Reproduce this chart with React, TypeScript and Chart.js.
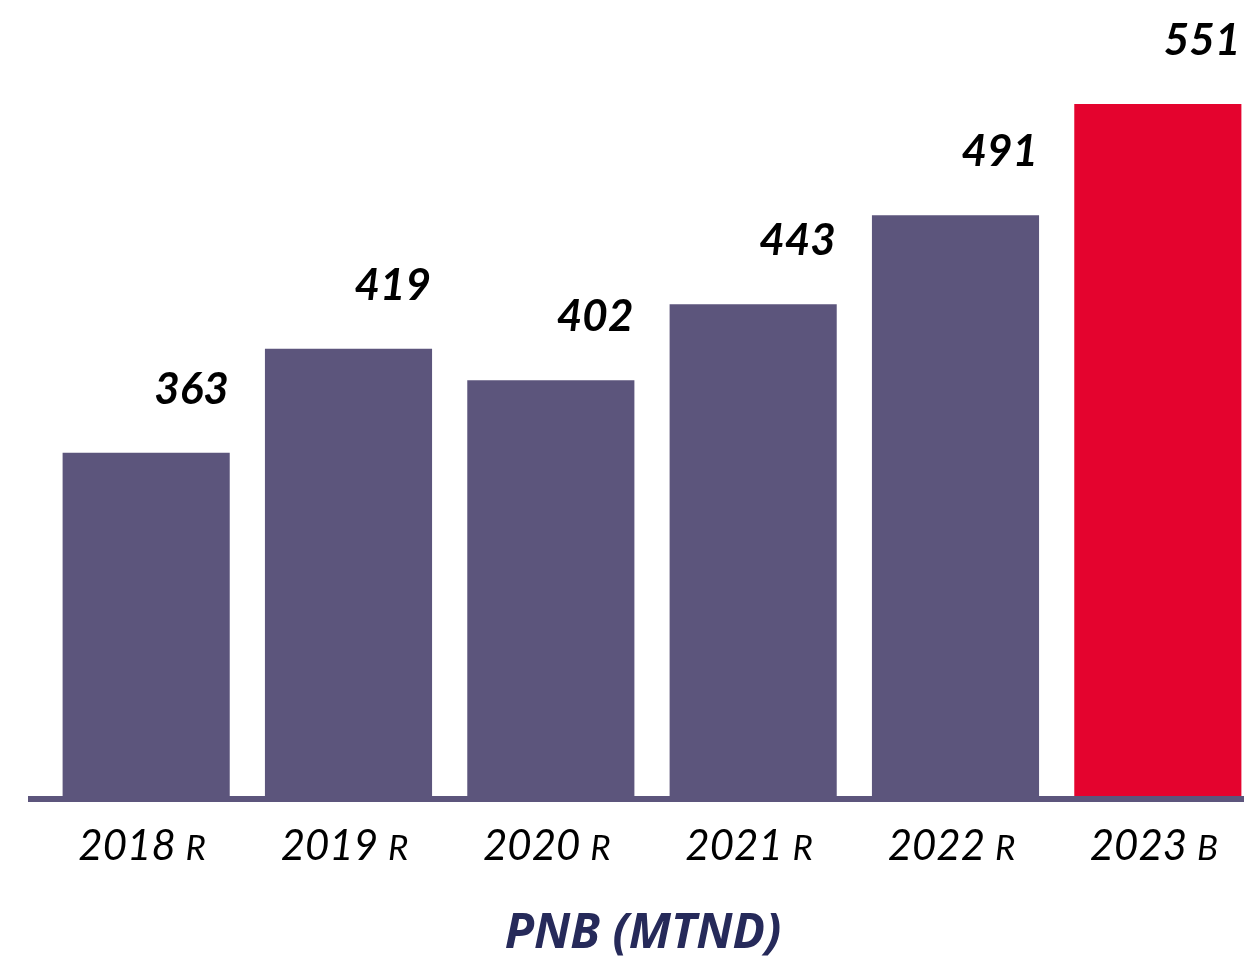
import React, { useEffect, useRef } from "react";
import { Chart, registerables } from "chart.js";

Chart.register(...registerables);

const years = ["2018", "2019", "2020", "2021", "2022", "2023"];
const suffixes = ["R", "R", "R", "R", "R", "B"];
const values = [363, 419, 402, 443, 491, 551];
const barColors = ["#5c557c", "#5c557c", "#5c557c", "#5c557c", "#5c557c", "#e4032e"];
const chartTitle = "PNB (MTND)";

const PURPLE = "#5c557c";
const NAVY = "#262a5a";

export default function App() {
  const ref = useRef<HTMLCanvasElement | null>(null);

  useEffect(() => {
    document.body.style.margin = "0";
    const canvas = ref.current;
    if (!canvas) return;

    const overlay = {
      id: "overlay",
      afterDatasetsDraw(chart: any) {
        const ctx = chart.ctx;
        const area = chart.chartArea;
        const meta = chart.getDatasetMeta(0);
        ctx.save();
        // baseline
        ctx.fillStyle = PURPLE;
        ctx.fillRect(28, area.bottom, 1244 - 28, 6);

        // value labels
        ctx.fillStyle = "#000";
        ctx.font = "italic bold 44px Lato";
        ctx.textAlign = "right";
        ctx.textBaseline = "alphabetic";
        meta.data.forEach((bar: any, i: number) => {
          const right = bar.x + bar.width / 2 - 1;
          ctx.fillText(String(values[i]), right, bar.y - 49);
        });

        // x labels
        const xs = chart.scales.x;
        ctx.textAlign = "left";
        years.forEach((y, i) => {
          const cx = xs.getPixelForValue(i) - 4;
          ctx.font = "italic 42px Lato";
          const w1 = ctx.measureText(y + " ").width;
          ctx.font = "italic 35px Lato";
          const w2 = ctx.measureText(suffixes[i]).width;
          const start = cx - (w1 + w2) / 2;
          ctx.font = "italic 42px Lato";
          ctx.fillText(y + " ", start, 860);
          ctx.font = "italic 35px Lato";
          ctx.fillText(suffixes[i], start + w1, 860);
        });

        // title
        ctx.fillStyle = NAVY;
        ctx.font = "italic bold 48px 'Open Sans'";
        ctx.textAlign = "center";
        ctx.fillText(chartTitle, 643, 948);
        ctx.restore();
      },
    };

    const chart = new Chart(canvas, {
      type: "bar",
      data: {
        labels: years.map((y, i) => y + " " + suffixes[i]),
        datasets: [
          {
            data: values,
            backgroundColor: barColors,
            borderWidth: 0,
            barPercentage: 0.826,
            categoryPercentage: 1,
          },
        ],
      },
      options: {
        responsive: false,
        animation: false,
        layout: { padding: { left: 45, right: 11, top: 0, bottom: 162 } },
        plugins: {
          legend: { display: false },
          tooltip: { enabled: false },
          title: { display: false },
        },
        scales: {
          x: { display: false, grid: { display: false } },
          y: { display: false, min: 178, max: 607, grid: { display: false } },
        },
      },
      plugins: [overlay],
    });
    return () => chart.destroy();
  }, []);

  return (
    <div style={{ position: "relative", width: 1244, height: 958, overflow: "hidden", background: "#fff" }}>
      <canvas ref={ref} width={1270} height={958} style={{ display: "block" }} />
    </div>
  );
}
